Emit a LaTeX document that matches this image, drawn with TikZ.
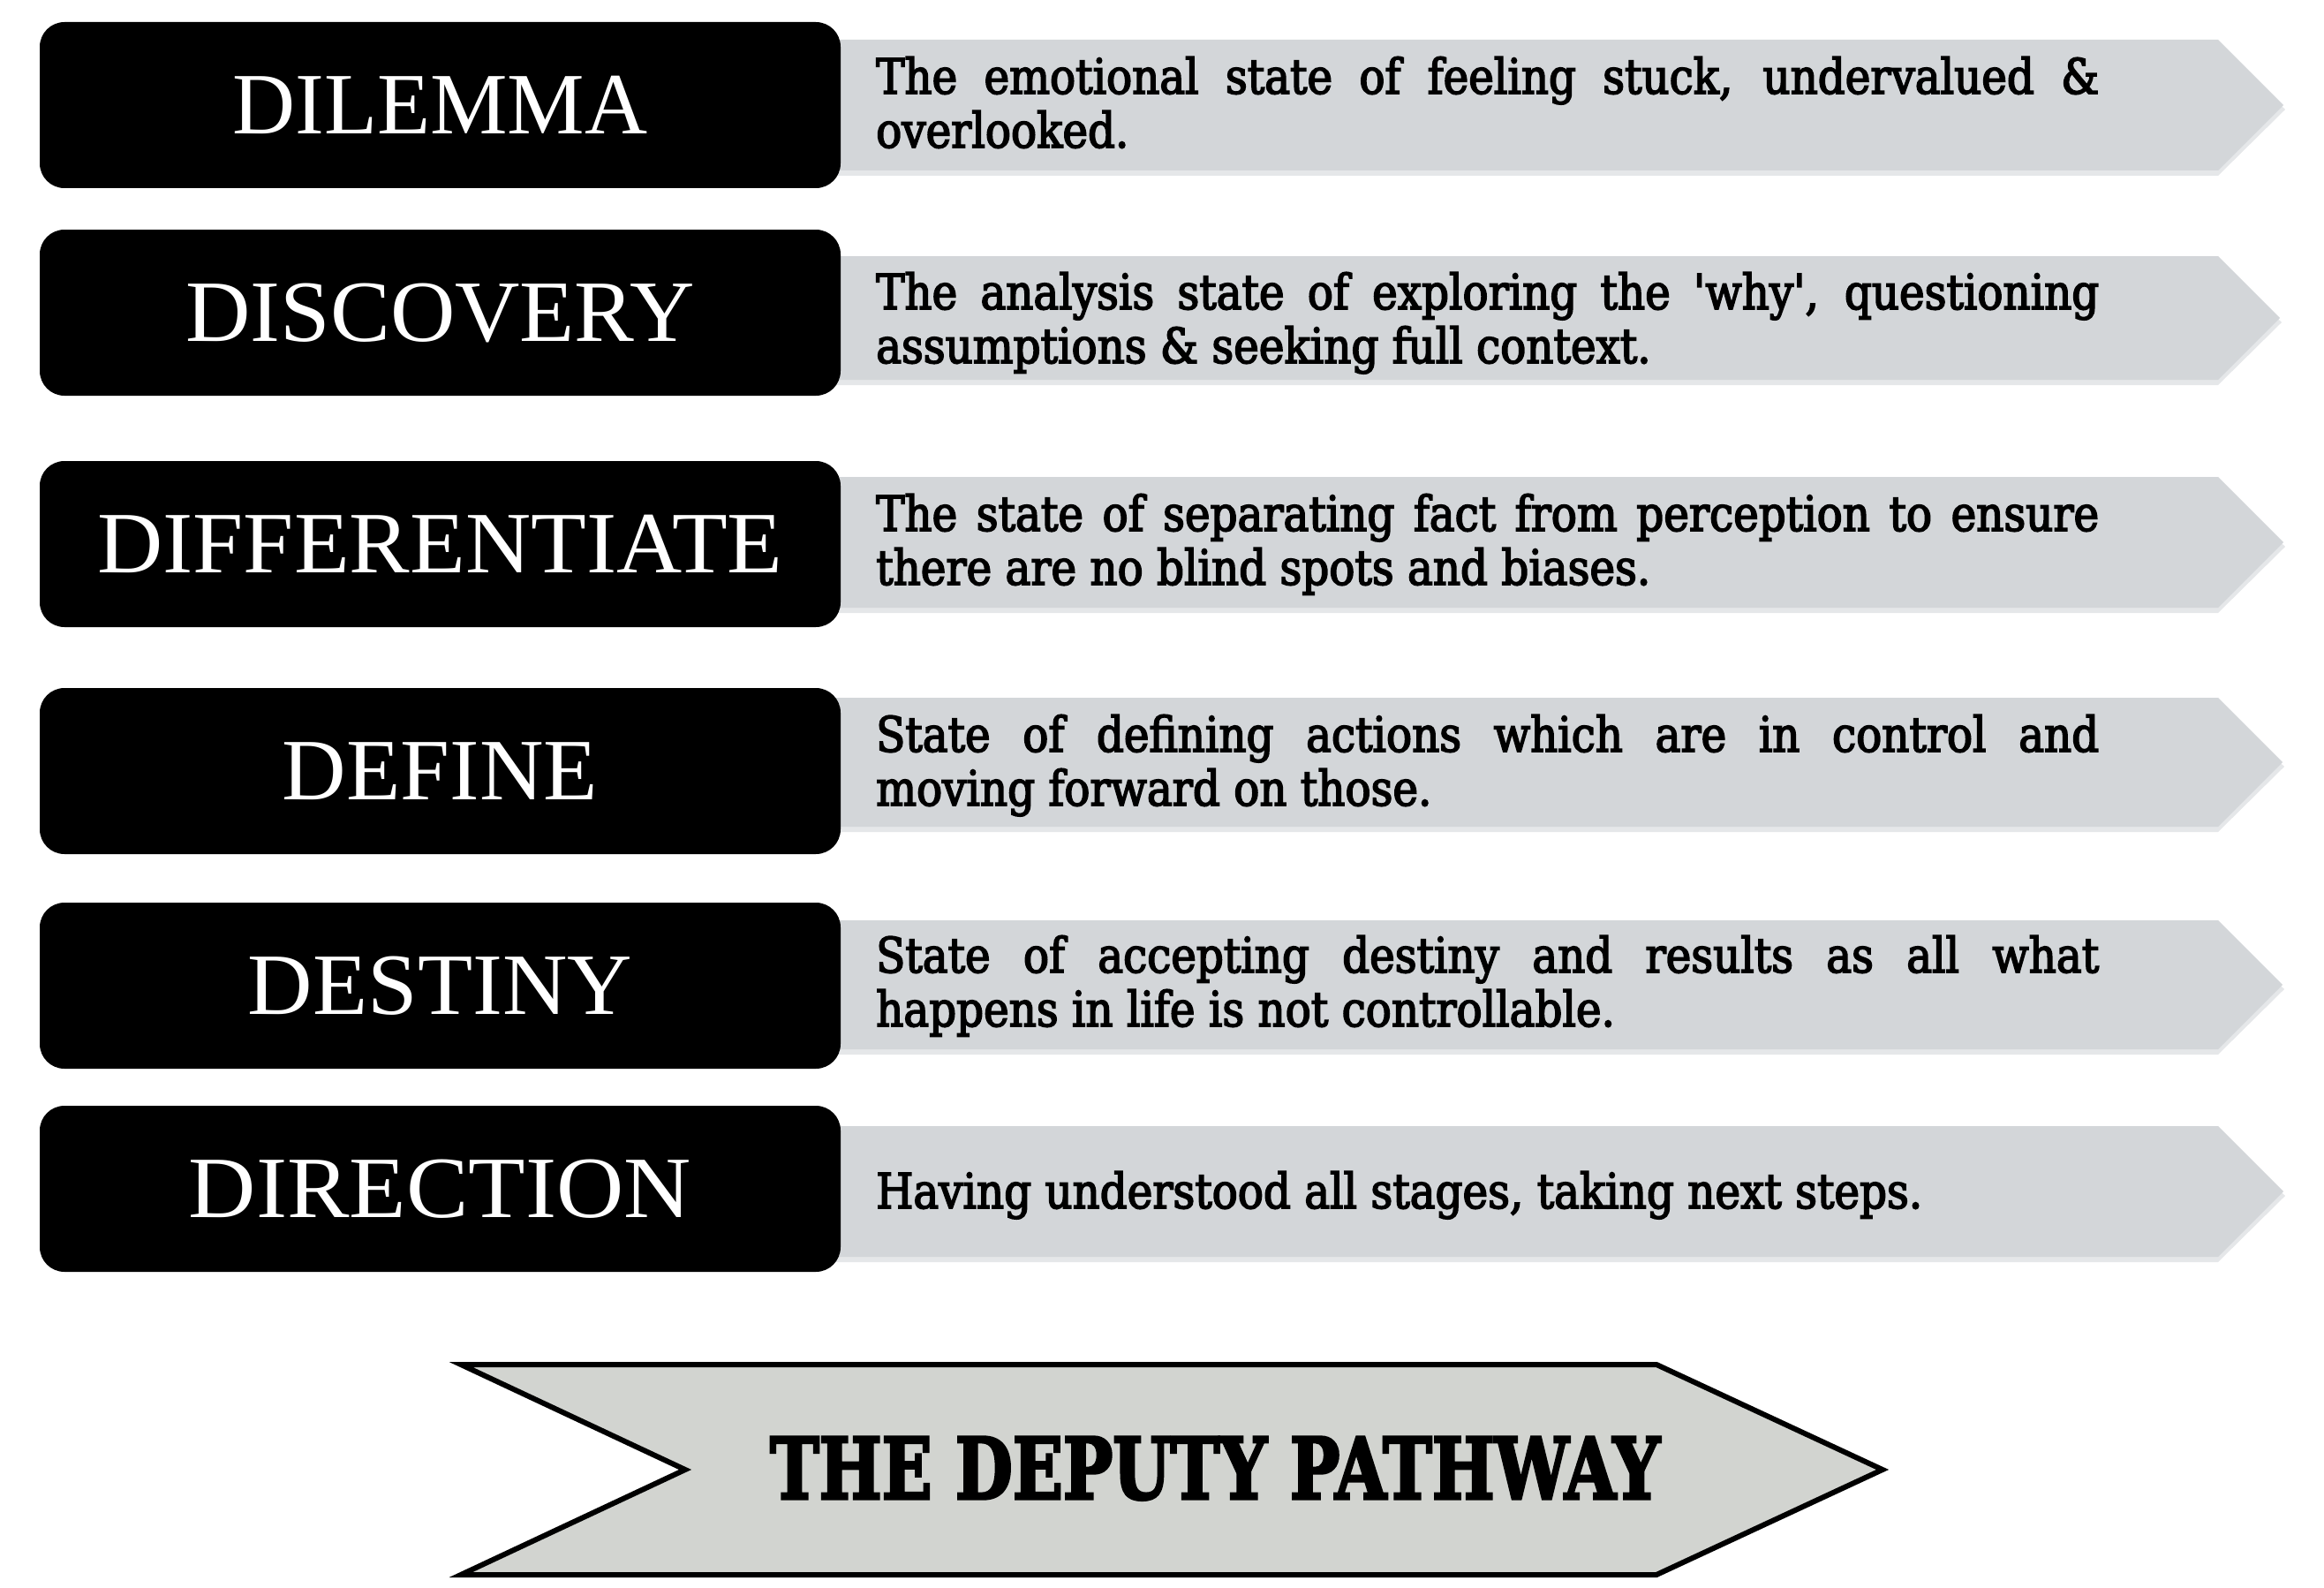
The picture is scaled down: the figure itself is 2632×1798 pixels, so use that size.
\documentclass[tikz,border=0pt]{standalone}
\usepackage{fontspec}
\usepackage{graphicx}
\setmainfont{Liberation Serif}
\newfontfamily\headfont{Liberation Serif}
\newfontfamily\rawbody{DejaVu Serif}
\newfontfamily\titlefont[UprightFont={* Bold},FakeBold=3.5]{DejaVu Serif}
\newlength\calw
\settowidth\calw{\rawbody\fontsize{55}{61}\selectfont Having understood all stages, taking next steps.}
\pgfmathsetmacro\bodyratio{1185/\calw}
\edef\tmpdef{\noexpand\newfontfamily\noexpand\bodyfont[FakeStretch=\bodyratio,FakeBold=3]{DejaVu Serif}}
\tmpdef
\definecolor{arrowgray}{RGB}{211,214,217}
\definecolor{shadowgray}{RGB}{229,231,233}
\definecolor{chevgray}{RGB}{210,212,208}
\tikzset{
  stagebox/.style={fill=black, rounded corners=28pt, minimum width=907pt, minimum height=188pt,
    inner sep=0pt, text=white, font=\headfont\fontsize{99}{100}\selectfont},
  desc/.style={anchor=base west, inner sep=0pt, text=black, font=\bodyfont\fontsize{55}{61}\selectfont},
  pathway/.style={line width=6pt, draw=black, fill=chevgray, line join=miter},
  titletext/.style={anchor=base, inner sep=0pt, font=\titlefont\fontsize{96}{100}\selectfont}
}
\newcommand\desctext[1]{\parbox[t]{1385pt}{\hyphenpenalty=10000\exhyphenpenalty=10000 #1}}
% gray pointer: #1 top, #2 bottom
\newcommand\graypointer[2]{%
  \fill[shadowgray] (945,#1+4) -- (2512,#1+4) -- ({2512+(#2-#1)/2+2},{(#1+#2)/2+5}) -- (2512,#2+6) -- (945,#2+6) -- cycle;
  \fill[arrowgray] (945,#1) -- (2512,#1) -- ({2512+(#2-#1)/2},{(#1+#2)/2}) -- (2512,#2) -- (945,#2) -- cycle;
}
\begin{document}
\begin{tikzpicture}[x=1pt,y=-1pt]
\useasboundingbox (0,0) rectangle (2632,1798);
% gray pointer arrows
\graypointer{45}{193}
\graypointer{290}{430}
\graypointer{540}{688}
\graypointer{790}{936}
\graypointer{1042}{1188}
\graypointer{1275}{1423}
% stage boxes
\node[stagebox] (s1) at (498.5,119)  {\resizebox{470pt}{\height}{DILEMMA}};
\node[stagebox] (s2) at (498.5,354)  {\resizebox{576pt}{\height}{DISCOVERY}};
\node[stagebox] (s3) at (498.5,616)  {\resizebox{776pt}{\height}{DIFFERENTIATE}};
\node[stagebox] (s4) at (498.5,873)  {\resizebox{357pt}{\height}{DEFINE}};
\node[stagebox] (s5) at (498.5,1116) {\resizebox{435pt}{\height}{DESTINY}};
\node[stagebox] (s6) at (498.5,1346) {\resizebox{569pt}{\height}{DIRECTION}};
% descriptions
\node[desc] (d1) at (992,106)  {\desctext{The emotional state of feeling stuck, undervalued \&\linebreak overlooked.}};
\node[desc] (d2) at (992,350)  {\desctext{The analysis state of exploring the 'why', questioning\linebreak assumptions \& seeking full context.}};
\node[desc] (d3) at (992,601)  {\desctext{The state of separating fact from perception to ensure\linebreak there are no blind spots and biases.}};
\node[desc] (d4) at (992,851)  {\desctext{State of defining actions which are in control and\linebreak moving forward on those.}};
\node[desc] (d5) at (992,1101) {\desctext{State of accepting destiny and results as all what\linebreak happens in life is not controllable.}};
\node[desc] (d6) at (992,1368) {\desctext{Having understood all stages, taking next steps.}};
% bottom chevron
\draw[pathway] (522,1545) -- (1876,1545) -- (2132,1664) -- (1876,1783) -- (522,1783) -- (776,1664) -- cycle;
\node[titletext] (title) at (1376,1697) {\resizebox{1008pt}{\height}{THE DEPUTY PATHWAY}};
\end{tikzpicture}
\end{document}
